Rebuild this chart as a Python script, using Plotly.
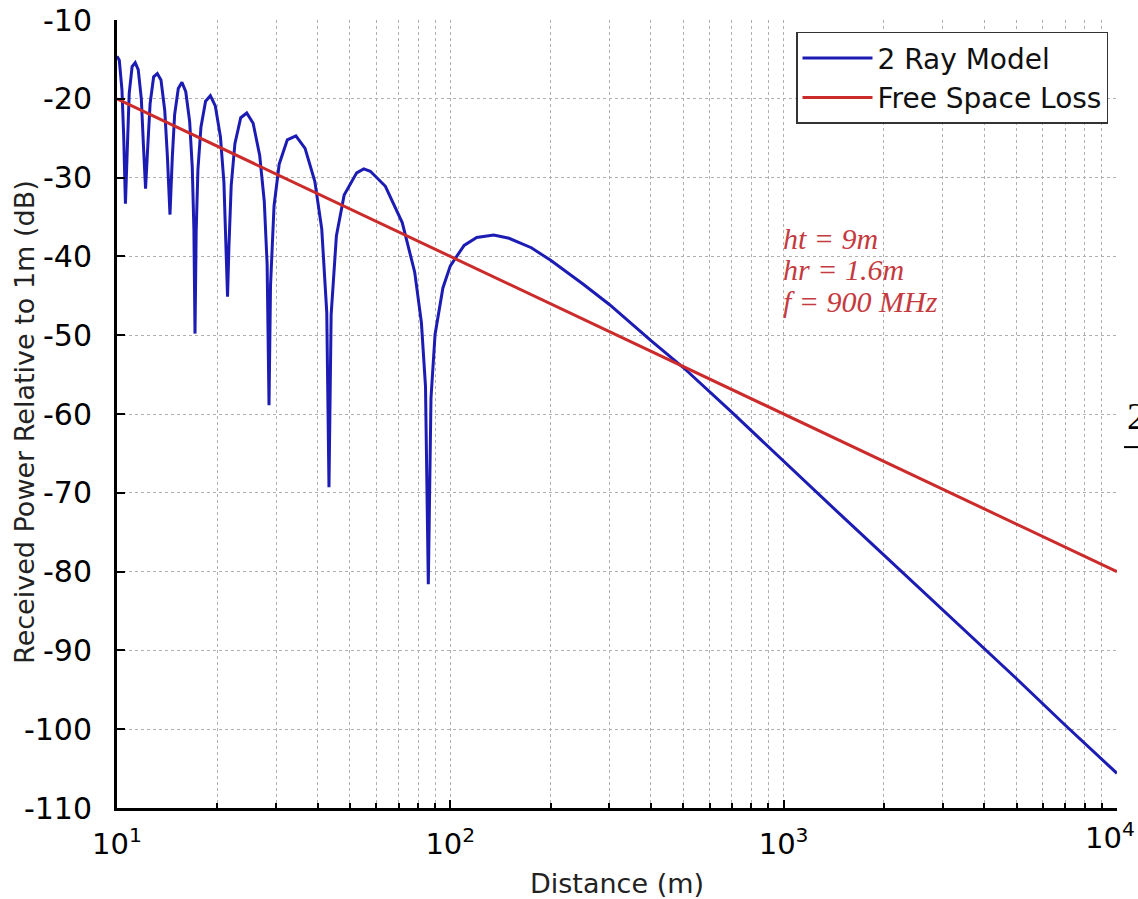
import plotly.graph_objects as go

# ---- data ----
two_ray_distance = [
    10.00, 10.16, 10.35, 10.47, 10.60,
    10.74, 10.88, 11.10, 11.34, 11.58, 11.83, 12.00, 12.18,
    12.37, 12.57, 12.88, 13.21, 13.55, 13.91, 14.16, 14.42,
    14.65, 14.89, 15.27, 15.66, 16.08, 16.52, 16.82, 17.01, 17.14,
    17.28, 17.49, 17.86, 18.44, 19.06, 19.72, 20.43, 20.93, 21.25, 21.46,
    21.67, 22.01, 22.58, 23.51, 24.51, 25.61, 26.80, 27.66, 28.21, 28.58,
    28.88, 29.59, 30.66, 32.43, 34.41, 36.67, 39.23, 41.14, 42.59, 43.25,
    43.90, 45.52, 48.03, 52.36, 55.00, 57.54, 63.86, 71.74, 78.19, 81.90, 84.25, 85.90,
    87.5, 90, 95, 100, 110, 120, 135, 150, 175, 200, 250, 300, 400, 500, 700,
    1000, 1500, 2000, 3000, 4000, 5000, 7000, 10000,
]
two_ray_db = [
    -14.6, -15.1, -18.9, -24.6, -33.3,
    -24.8, -19.3, -15.9, -15.4, -16.3, -20.0, -25.8, -31.4,
    -26.0, -20.6, -17.2, -16.8, -17.6, -21.5, -27.2, -34.7,
    -27.5, -22.0, -18.7, -17.9, -19.1, -22.9, -28.7, -36.6, -49.8,
    -36.8, -29.0, -23.6, -20.3, -19.6, -20.9, -24.8, -30.6, -38.5, -45.1,
    -38.7, -31.0, -25.7, -22.4, -21.8, -23.1, -27.2, -33.0, -41.0, -58.9,
    -43.7, -33.6, -28.3, -25.2, -24.7, -26.3, -30.5, -36.5, -47.1, -69.3,
    -47.4, -37.4, -32.2, -29.4, -28.9, -29.2, -31.1, -35.7, -42.0, -48.4, -56.5, -81.6,
    -58.0, -49.9, -44.0, -41.2, -38.6, -37.6, -37.3, -37.7, -38.9, -40.5, -43.5, -46.1, -50.7, -54.1, -59.8,
    -66.0, -73.0, -77.9, -84.8, -89.8, -93.6, -99.5, -105.6,
]

free_space_distance = [10, 100, 1000, 10000]
free_space_db = [-20, -40, -60, -80]

x_tick_values = [10, 100, 1000, 10000]
x_tick_labels = ["10<sup>1</sup>", "10<sup>2</sup>", "10<sup>3</sup>", "10<sup>4</sup>"]
y_tick_values = [-10, -20, -30, -40, -50, -60, -70, -80, -90, -100, -110]
y_tick_labels = ["-10", "-20", "-30", "-40", "-50", "-60", "-70", "-80", "-90", "-100", "-110"]

series_names = ["2 Ray Model", "Free Space Loss"]
note_lines = ["ht = 9m", "hr = 1.6m", "f = 900 MHz"]
y_title = "Received Power Relative to 1m (dB)"
x_title = "Distance (m)"

# ---- figure ----
BLUE = "#1c1cb4"
RED = "#cc2b2b"
SANS = "DejaVu Sans, Liberation Sans, Arial, sans-serif"
SERIF = "Liberation Serif, Times New Roman, serif"

# minor log ticks 2..9 in each decade (axis configuration)
minor_vals = [m * 10 ** k for k in range(1, 4) for m in range(2, 10)]

fig = go.Figure()
fig.add_trace(go.Scatter(x=two_ray_distance, y=two_ray_db, mode="lines",
                         name=series_names[0], line=dict(color=BLUE, width=3)))
fig.add_trace(go.Scatter(x=free_space_distance, y=free_space_db, mode="lines",
                         name=series_names[1], line=dict(color=RED, width=3)))

# the last tick label sits against the right edge, so it is drawn right-aligned below
shown_x_labels = x_tick_labels[:-1] + [""]

grid_color = "#b0b0b0"
fig.update_xaxes(
    type="log", range=[1, 4.0002], automargin=False,
    tickmode="array", tickvals=x_tick_values, ticktext=shown_x_labels,
    ticks="inside", ticklen=8, tickwidth=2, tickcolor="black",
    ticklabeloverflow="allow", ticklabelstandoff=8,
    showline=True, linecolor="black", linewidth=3, mirror=False,
    showgrid=True, gridcolor=grid_color, griddash="dot", gridwidth=1,
    minor=dict(tickmode="array", tickvals=minor_vals,
               showgrid=True, gridcolor=grid_color, griddash="dot", gridwidth=1,
               ticks="inside", ticklen=5, tickwidth=2, tickcolor="black"),
    tickfont=dict(family=SANS, size=29, color="black"),
    title=dict(text=x_title, font=dict(family=SANS, size=27, color="#222"), standoff=15),
    zeroline=False,
)
fig.update_yaxes(
    range=[-110, -10], automargin=False,
    tickmode="array", tickvals=y_tick_values, ticktext=y_tick_labels,
    ticks="inside", ticklen=8, tickwidth=2, tickcolor="black",
    ticklabelstandoff=16, ticklabeloverflow="allow",
    showline=True, linecolor="black", linewidth=3, mirror=False,
    showgrid=True, gridcolor=grid_color, griddash="dot", gridwidth=1,
    tickfont=dict(family=SANS, size=30, color="black"),
    zeroline=False,
)

note_y = [0.7233, 0.6828, 0.6423]
annotations = []
for txt, yy in zip(note_lines, note_y):
    annotations.append(dict(
        x=0.665, y=yy, xref="paper", yref="paper", xanchor="left", yanchor="middle",
        text="<i>" + txt + "</i>", showarrow=False, borderpad=0,
        font=dict(family=SERIF, size=30, color="#c43a3f"),
    ))
# last x tick label, right-aligned at the edge as in the reference
annotations.append(dict(
    x=1.019, y=-0.0102, xref="paper", yref="paper", xanchor="right", yanchor="top",
    text=x_tick_labels[-1], showarrow=False, borderpad=0,
    font=dict(family=SANS, size=29, color="black"),
))
# rotated y-axis title placed where the reference shows it
annotations.append(dict(
    x=-0.092, y=0.49, xref="paper", yref="paper", xanchor="center", yanchor="middle",
    text=y_title, textangle=-90, showarrow=False,
    font=dict(family=SANS, size=27, color="#222"),
))
# cut-off character at the right edge of the reference
annotations.append(dict(
    x=1.009, y=0.497, xref="paper", yref="paper", xanchor="left", yanchor="middle",
    text="2", showarrow=False, borderpad=0, font=dict(family=SERIF, size=38, color="black"),
))

fig.update_layout(
    width=1138, height=899,
    margin=dict(l=117, r=21, t=20, b=91, autoexpand=False),
    paper_bgcolor="white", plot_bgcolor="white",
    showlegend=True,
    legend=dict(
        x=0.991, y=0.985, xanchor="right", yanchor="top",
        bgcolor="white", bordercolor="#333", borderwidth=1.5,
        font=dict(family=SANS, size=28, color="#111"),
        itemwidth=70, tracegroupgap=0,
    ),
    annotations=annotations,
    shapes=[dict(type="line", xref="paper", yref="paper",
                 x0=1.007, x1=1.03, y0=0.458, y1=0.458,
                 line=dict(color="black", width=2))],
)

# remove the browser's default 8px page margin so the figure fills the window exactly
fig.write_html("out.html", config={"displayModeBar": False},
               post_script="document.body.style.margin='0px';")
